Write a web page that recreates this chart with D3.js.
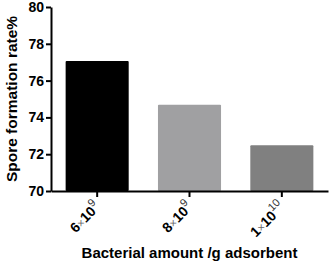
<!DOCTYPE html>
<html>
<head>
<meta charset="utf-8">
<script src="https://cdn.jsdelivr.net/npm/d3@7"></script>
<style>
  body { margin: 0; background: #fff; }
  svg { display: block; font-family: "Liberation Sans", Arial, sans-serif; }
</style>
</head>
<body>
<svg id="chart" width="330" height="265"></svg>
<script>
// data
const categories = ["6e9", "8e9", "1e10"];
const mantissas = ["6", "8", "1"];
const exponents = ["9", "9", "10"];
const rates = [77.07, 74.69, 72.48];
const barColors = ["#000000", "#a0a0a2", "#808080"];
const yTicks = [70, 72, 74, 76, 78, 80];

const svg = d3.select("#chart");
const margin = { top: 7, right: 2, bottom: 74, left: 51 };
const width = +svg.attr("width");
const height = +svg.attr("height");

const x = d3.scaleBand()
  .domain(categories)
  .range([margin.left, width - margin.right])
  .paddingInner(0.317)
  .paddingOuter(0.1585);

const y = d3.scaleLinear()
  .domain([70, 80])
  .range([height - margin.bottom, margin.top]);

// bars
svg.selectAll("rect.bar")
  .data(categories)
  .enter()
  .append("rect")
  .attr("class", "bar")
  .attr("x", d => x(d))
  .attr("y", (d, i) => y(rates[i]))
  .attr("width", x.bandwidth())
  .attr("height", (d, i) => y(70) - y(rates[i]))
  .attr("rx", 1)
  .attr("fill", (d, i) => barColors[i]);

// y axis
const yAxis = svg.append("g")
  .attr("transform", `translate(${margin.left},0)`)
  .call(d3.axisLeft(y).tickValues(yTicks).tickSize(5).tickPadding(2).tickSizeOuter(0));
yAxis.select(".domain").attr("stroke-width", 2);
yAxis.selectAll(".tick line").attr("stroke-width", 2);
yAxis.selectAll(".tick text")
  .attr("font-size", 14)
  .attr("font-weight", "bold")
  .attr("fill", "#000");

// x axis
const xAxis = svg.append("g")
  .attr("transform", `translate(0,${y(70)})`)
  .call(d3.axisBottom(x).tickSize(6).tickSizeOuter(0).tickFormat(""));
xAxis.select(".domain").attr("stroke-width", 2);
xAxis.selectAll(".tick line").attr("stroke-width", 2);

// rotated tick labels like 6×10^9
categories.forEach((c, i) => {
  const cx = x(c) + x.bandwidth() / 2 + 4;
  const t = svg.append("text")
    .attr("transform", `translate(${cx},${y(70) + 17}) rotate(-45)`)
    .attr("text-anchor", "end")
    .attr("font-size", 14)
    .attr("font-weight", "bold")
    .attr("fill", "#000");
  t.append("tspan").text(mantissas[i]);
  t.append("tspan").attr("font-weight", "normal").attr("fill", "#666").attr("font-size", 11).text("\u00d7");
  t.append("tspan").text("10");
  t.append("tspan").attr("font-size", 11).attr("font-weight", "normal").attr("fill", "#333").attr("dy", -7).text(exponents[i]);
});

// axis titles
svg.append("text")
  .attr("x", (margin.left + width - margin.right) / 2)
  .attr("y", 258)
  .attr("text-anchor", "middle")
  .attr("font-size", 15)
  .attr("font-weight", "bold")
  .text("Bacterial amount /g adsorbent");

svg.append("text")
  .attr("transform", `translate(17,${(margin.top + y(70)) / 2}) rotate(-90)`)
  .attr("text-anchor", "middle")
  .attr("font-size", 15.5)
  .attr("font-weight", "bold")
  .text("Spore formation rate%");
</script>
</body>
</html>
